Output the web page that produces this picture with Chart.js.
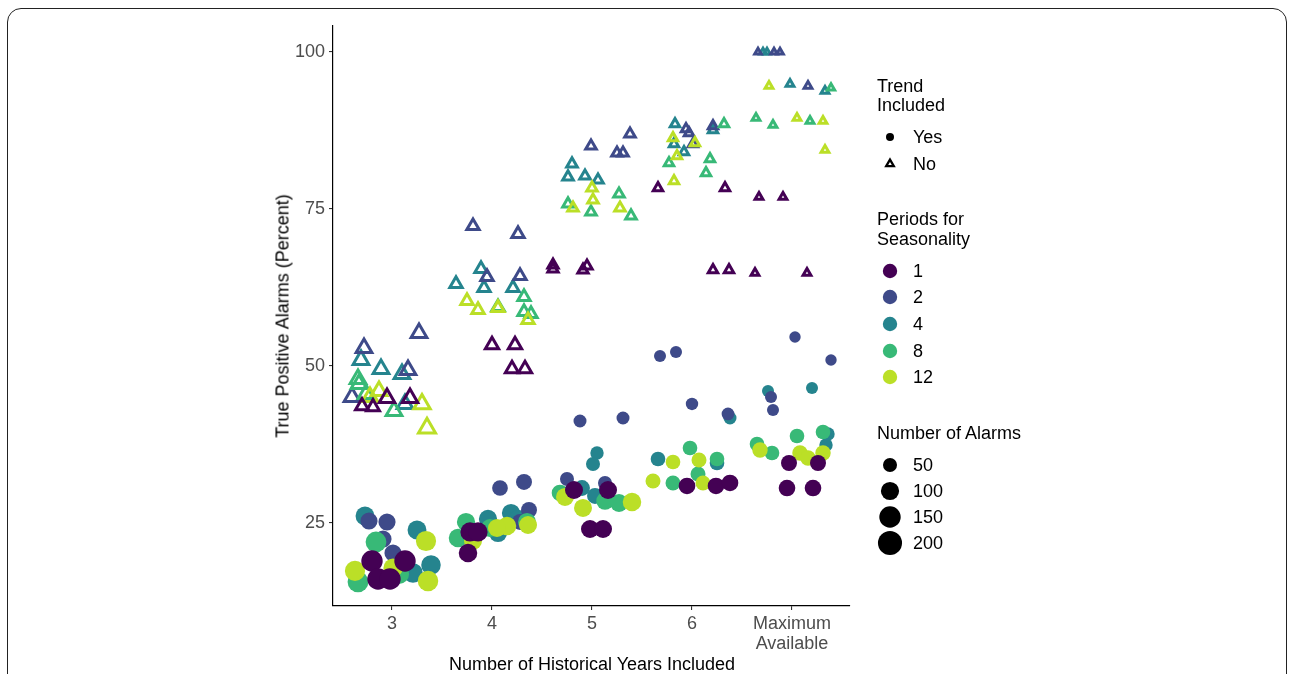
<!DOCTYPE html>
<html>
<head>
<meta charset="utf-8">
<title>True Positive Alarms by Historical Years</title>
<script src="https://cdn.jsdelivr.net/npm/chart.js@4/dist/chart.umd.min.js"></script>
<style>
  html, body { margin: 0; padding: 0; background: #fff; }
  body { width: 1290px; height: 674px; position: relative; overflow: hidden;
         font-family: "Liberation Sans", Arial, Helvetica, sans-serif; }
  #frame { position: absolute; left: 7px; top: 8px; width: 1280px; height: 720px;
           border: 1.5px solid #222; border-radius: 14px; box-sizing: border-box; }
  #plot { position: absolute; left: 0; top: 0; }
  .txt { position: absolute; font-size: 18px; line-height: 20px; color: #000; white-space: nowrap; }
  .axis-title { position: absolute; font-size: 18px; color: #000; white-space: nowrap;
                transform: translate(-50%, -50%); }
  .mark { position: absolute; width: 30px; height: 30px; }
</style>
</head>
<body>
<div id="frame"></div>
<canvas id="plot" width="1290" height="674"></canvas>
<div class="axis-title" style="left:592px; top:664px;">Number of Historical Years Included</div>
<div class="axis-title" style="left:283px; top:316px; transform: translate(-50%, -50%) rotate(-90deg);">True Positive Alarms (Percent)</div>
<div id="legend"></div>
<script>
// Axis ticks
const YEAR_TICKS = [3, 4, 5, 6, 7];
const YEAR_LABELS = ['3', '4', '5', '6', ['Maximum', 'Available']];
const TP_TICKS = [25, 50, 75, 100];

// Seasonality periods and their colours
const PERIODS = ['1', '2', '4', '8', '12'];
const PERIOD_COLORS = ['#440154', '#3E4A89', '#25848E', '#38B977', '#BBDF27'];
const TREND_LABELS = ['Yes', 'No'];
const ALARM_BREAKS = [50, 100, 150, 200];

// Model runs with a trend term: [years included (jittered), true positive %, number of alarms]
const trendP1 = [
  [2.80, 18.95, 150], [3.13, 18.95, 150], [2.86, 16.08, 150], [2.98, 16.08, 150],
  [3.78, 23.57, 115], [3.86, 23.57, 115], [3.76, 20.22, 105],
  [4.82, 30.25, 97], [5.16, 30.25, 97], [4.98, 24.04, 97], [5.11, 24.04, 97],
  [5.95, 30.89, 79], [6.24, 30.89, 79], [6.38, 31.37, 79],
  [6.97, 34.55, 71], [7.26, 34.55, 71], [6.95, 30.57, 79], [7.21, 30.57, 79]
];
const trendP2 = [
  [2.77, 25.32, 85], [2.95, 25.16, 85], [2.91, 22.45, 85], [3.01, 20.22, 85],
  [4.08, 30.57, 68], [4.32, 31.53, 71], [4.37, 27.07, 71], [4.28, 25.16, 71],
  [4.88, 41.24, 40], [5.31, 41.72, 40], [4.75, 32.01, 50], [5.13, 31.37, 50],
  [5.68, 51.59, 32], [5.84, 52.23, 32], [6.00, 43.95, 35], [6.36, 42.36, 38],
  [7.03, 54.62, 27], [7.39, 50.96, 27], [6.79, 45.06, 32], [6.81, 43.00, 32]
];
const trendP4 = [
  [2.73, 26.11, 110], [3.25, 23.89, 110], [3.21, 17.04, 120], [3.39, 18.31, 120],
  [3.96, 25.64, 100], [4.19, 26.59, 100], [4.26, 25.64, 100], [4.06, 23.41, 100],
  [5.05, 36.15, 44], [5.01, 34.39, 50], [4.90, 30.57, 70], [5.03, 29.30, 70],
  [6.38, 41.72, 40], [5.66, 35.19, 56], [6.25, 34.55, 56],
  [6.76, 46.02, 32], [7.20, 46.50, 32], [7.36, 39.17, 44], [7.34, 37.42, 44]
];
const trendP8 = [
  [2.84, 21.97, 140], [2.66, 15.61, 140], [3.07, 16.88, 130],
  [3.74, 25.16, 100], [3.66, 22.61, 105], [4.35, 25.16, 97], [3.98, 24.20, 97],
  [4.68, 29.78, 79], [5.13, 28.50, 90], [5.27, 28.18, 97],
  [5.98, 36.94, 56], [6.25, 35.19, 56], [6.06, 32.80, 60], [5.81, 31.37, 60],
  [6.65, 37.58, 56], [6.80, 36.15, 56], [7.05, 38.85, 56], [7.31, 39.49, 56]
];
const trendP12 = [
  [3.34, 22.13, 130], [2.63, 17.36, 130], [3.36, 15.76, 135], [3.01, 17.83, 115],
  [4.15, 24.52, 105], [4.36, 24.68, 97], [3.81, 22.13, 97], [4.05, 24.20, 97],
  [4.73, 29.14, 97], [4.91, 27.39, 97], [5.40, 28.34, 105],
  [5.81, 34.71, 56], [6.07, 35.03, 60], [5.61, 31.69, 60], [6.11, 31.37, 60],
  [6.68, 36.62, 65], [7.08, 36.15, 65], [7.16, 35.35, 65], [7.31, 36.15, 65]
];

// Model runs without a trend term
const noTrendP1 = [
  [2.70, 43.63, 22], [2.81, 43.47, 22], [2.95, 44.90, 38], [3.18, 44.90, 38],
  [4.00, 53.34, 24], [4.23, 53.34, 24], [4.20, 49.52, 24], [4.33, 49.52, 24],
  [4.61, 66.08, 10], [4.61, 65.45, 10], [4.91, 65.29, 10], [4.95, 65.92, 10],
  [5.66, 78.34, 7], [6.33, 78.34, 7], [6.21, 65.29, 7], [6.37, 65.29, 7],
  [6.67, 76.91, 3], [6.91, 76.91, 3], [6.63, 64.81, 3], [7.15, 64.81, 3]
];
const noTrendP2 = [
  [3.27, 55.25, 40], [2.72, 52.87, 40], [3.16, 49.36, 40], [2.60, 45.06, 40],
  [3.81, 72.29, 19], [4.26, 71.02, 19], [3.95, 64.17, 19], [4.28, 64.33, 19],
  [5.38, 86.94, 11], [4.99, 85.03, 11], [5.25, 83.92, 11], [5.31, 83.92, 11],
  [5.94, 87.74, 7], [5.97, 87.10, 7], [6.21, 88.22, 7], [6.01, 85.35, 7],
  [6.66, 100.0, 1], [6.82, 100.0, 1], [6.88, 100.0, 1], [7.16, 94.59, 3]
];
const noTrendP4 = [
  [2.69, 50.96, 40], [2.89, 49.52, 40], [3.10, 48.73, 40], [3.13, 43.95, 40],
  [3.89, 65.45, 19], [3.64, 63.06, 19], [3.92, 62.42, 19], [4.21, 62.42, 19],
  [4.80, 82.17, 11], [4.76, 80.10, 11], [4.93, 80.25, 11], [5.06, 79.62, 11],
  [5.83, 88.54, 7], [6.21, 87.58, 7], [5.82, 85.35, 7], [5.92, 84.08, 7],
  [6.71, 100.0, 1], [6.75, 100.0, 1], [6.98, 94.90, 3], [7.33, 93.79, 3]
];
const noTrendP8 = [
  [2.66, 47.93, 40], [2.67, 47.13, 40], [2.74, 45.54, 40], [3.02, 42.83, 40],
  [4.06, 59.39, 19], [4.32, 60.99, 19], [4.32, 58.60, 19], [4.39, 58.28, 19],
  [5.27, 77.39, 11], [4.76, 75.80, 11], [4.99, 74.52, 11], [5.39, 73.89, 11],
  [6.32, 88.54, 7], [6.18, 82.96, 7], [5.77, 82.32, 7], [6.14, 80.73, 7],
  [7.39, 94.27, 2], [6.64, 89.49, 3], [6.81, 88.38, 3], [7.18, 89.01, 3]
];
const noTrendP12 = [
  [2.87, 46.02, 40], [2.78, 45.06, 40], [3.30, 43.95, 45], [3.35, 40.13, 50],
  [3.75, 60.35, 19], [3.86, 58.92, 19], [4.36, 57.32, 19], [4.06, 59.24, 19],
  [5.00, 78.34, 11], [5.01, 76.43, 11], [4.81, 75.16, 11], [5.28, 75.16, 11],
  [5.81, 86.31, 7], [6.03, 85.51, 7], [5.85, 83.44, 7], [5.82, 79.46, 7],
  [6.77, 94.59, 3], [7.05, 89.49, 3], [7.31, 89.01, 3], [7.33, 84.39, 3]
];

const TREND_SERIES = [trendP1, trendP2, trendP4, trendP8, trendP12];
const NO_TREND_SERIES = [noTrendP1, noTrendP2, noTrendP4, noTrendP8, noTrendP12];

// Marker size from the number of alarms (area scale)
const dotRadius = n => 2 + 0.71 * Math.sqrt(n);
const triRadius = n => 1.4 * dotRadius(n);
const TRI_STROKE = 3;

// Lower order is painted last (on top)
const DRAW_ORDER = [0, 3, 4, 2, 1];

const FONT = '"Liberation Sans", Arial, Helvetica, sans-serif';
const toPoints = rows => rows.map(([x, y, n]) => ({ x, y, n }));

const datasets = [];
PERIODS.forEach((p, i) => {
  datasets.push({
    label: 'Periods ' + p + ' / trend',
    data: toPoints(TREND_SERIES[i]),
    pointStyle: 'circle',
    backgroundColor: PERIOD_COLORS[i],
    borderColor: PERIOD_COLORS[i],
    borderWidth: 0,
    pointRadius: c => (c.raw ? dotRadius(c.raw.n) : 5),
    pointHoverRadius: c => (c.raw ? dotRadius(c.raw.n) : 5),
    order: DRAW_ORDER[i],
    clip: false
  });
  datasets.push({
    label: 'Periods ' + p + ' / no trend',
    data: toPoints(NO_TREND_SERIES[i]),
    pointStyle: 'triangle',
    backgroundColor: 'rgba(0,0,0,0)',
    borderColor: PERIOD_COLORS[i],
    borderWidth: TRI_STROKE,
    pointRadius: c => (c.raw ? triRadius(c.raw.n) : 5),
    pointHoverRadius: c => (c.raw ? triRadius(c.raw.n) : 5),
    order: DRAW_ORDER[i] + 10,
    clip: false
  });
});

const tickFont = { family: FONT, size: 18, lineHeight: 1.1 };

new Chart(document.getElementById('plot'), {
  type: 'scatter',
  data: { datasets },
  options: {
    responsive: false,
    devicePixelRatio: 1,
    animation: false,
    events: [],
    layout: { padding: { left: 0, top: 26, right: 440, bottom: 0 } },
    plugins: { legend: { display: false }, tooltip: { enabled: false } },
    scales: {
      x: {
        type: 'linear',
        min: 2.41,
        max: 7.58,
        afterBuildTicks: s => { s.ticks = YEAR_TICKS.map(v => ({ value: v })); },
        afterFit: s => { s.height = 68; },
        ticks: {
          callback: (v, i) => YEAR_LABELS[i],
          color: '#4D4D4D',
          font: tickFont,
          padding: 4,
          maxRotation: 0,
          autoSkip: false
        },
        grid: { drawOnChartArea: false, drawTicks: true, tickLength: 4, color: '#333', lineWidth: 1.1 },
        border: { display: true, color: '#000', width: 1.2 }
      },
      y: {
        type: 'linear',
        min: 11.78,
        max: 104.14,
        afterBuildTicks: s => { s.ticks = TP_TICKS.map(v => ({ value: v })); },
        afterFit: s => { s.width = 333; },
        ticks: {
          callback: v => String(v),
          color: '#4D4D4D',
          font: tickFont,
          padding: 4
        },
        grid: { drawOnChartArea: false, drawTicks: true, tickLength: 4, color: '#333', lineWidth: 1.1 },
        border: { display: true, color: '#000', width: 1.2 }
      }
    }
  }
});

// Legend: trend shape, seasonality colour, alarm size
const legend = document.getElementById('legend');
const MARK_X = 890, TEXT_X = 913, TITLE_X = 877;
const SVG_NS = 'http://www.w3.org/2000/svg';

function addText(str, left, centerY) {
  const d = document.createElement('div');
  d.className = 'txt';
  d.style.left = left + 'px';
  d.style.top = (centerY - 10) + 'px';
  d.textContent = str;
  legend.appendChild(d);
}
function addMark(centerY, draw) {
  const svg = document.createElementNS(SVG_NS, 'svg');
  svg.setAttribute('class', 'mark');
  svg.setAttribute('width', '30');
  svg.setAttribute('height', '30');
  svg.style.left = (MARK_X - 15) + 'px';
  svg.style.top = (centerY - 15) + 'px';
  draw(svg);
  legend.appendChild(svg);
}
function circle(svg, r, fill) {
  const c = document.createElementNS(SVG_NS, 'circle');
  c.setAttribute('cx', '15'); c.setAttribute('cy', '15'); c.setAttribute('r', r);
  c.setAttribute('fill', fill);
  svg.appendChild(c);
}
function triangle(svg, R, stroke, lw) {
  const p = document.createElementNS(SVG_NS, 'polygon');
  const pts = [0, 1, 2].map(k => {
    const a = k * 2 * Math.PI / 3;
    return (15 + Math.sin(a) * R).toFixed(2) + ',' + (15 - Math.cos(a) * R).toFixed(2);
  });
  p.setAttribute('points', pts.join(' '));
  p.setAttribute('fill', 'none');
  p.setAttribute('stroke', stroke);
  p.setAttribute('stroke-width', lw);
  svg.appendChild(p);
}

addText('Trend', TITLE_X, 86);
addText('Included', TITLE_X, 105);
const trendRowsY = [137, 164];
addMark(trendRowsY[0], s => circle(s, 4, '#000'));
addText(TREND_LABELS[0], TEXT_X, trendRowsY[0]);
addMark(trendRowsY[1], s => triangle(s, 4.4, '#000', 2.3));
addText(TREND_LABELS[1], TEXT_X, trendRowsY[1]);

addText('Periods for', TITLE_X, 219);
addText('Seasonality', TITLE_X, 239);
const periodRowsY = [271, 297, 324, 351, 377];
PERIODS.forEach((p, i) => {
  addMark(periodRowsY[i], s => circle(s, 7.2, PERIOD_COLORS[i]));
  addText(p, TEXT_X, periodRowsY[i]);
});

addText('Number of Alarms', TITLE_X, 433);
const sizeRowsY = [465, 491, 517, 543];
ALARM_BREAKS.forEach((n, i) => {
  addMark(sizeRowsY[i], s => circle(s, dotRadius(n), '#000'));
  addText(String(n), TEXT_X, sizeRowsY[i]);
});
</script>
</body>
</html>
